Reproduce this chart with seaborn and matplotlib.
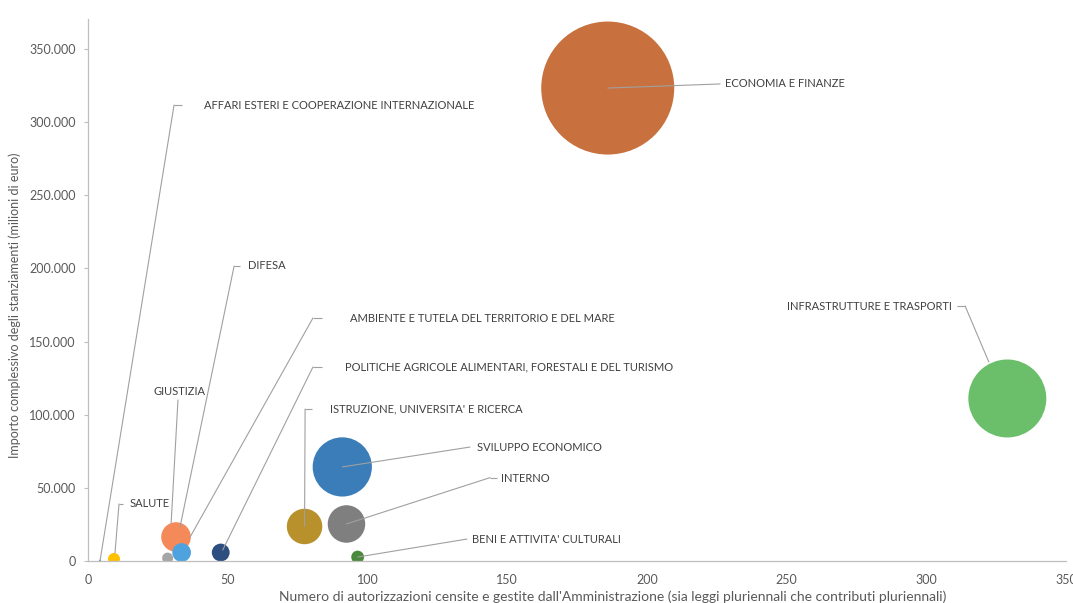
import matplotlib
matplotlib.use("Agg")
import matplotlib.pyplot as plt
import matplotlib.transforms as mtransforms
from matplotlib.ticker import FuncFormatter
import seaborn as sns
import pandas as pd

# ---------------- data ----------------
ministries = [
    "ECONOMIA E FINANZE",
    "INFRASTRUTTURE E TRASPORTI",
    "SVILUPPO ECONOMICO",
    "INTERNO",
    "ISTRUZIONE, UNIVERSITA' E RICERCA",
    "DIFESA",
    "AMBIENTE E TUTELA DEL TERRITORIO E DEL MARE",
    "POLITICHE AGRICOLE ALIMENTARI, FORESTALI E DEL TURISMO",
    "BENI E ATTIVITA' CULTURALI",
    "GIUSTIZIA",
    "SALUTE",
    "AFFARI ESTERI E COOPERAZIONE INTERNAZIONALE",
]
n_authorizations = [186, 329, 91, 92.5, 77.5, 31.5, 33.5, 47.5, 96.5, 28.5, 9.3, 4.3]
amount_meur = [323300, 111100, 64300, 25300, 23600, 16400, 5800, 5800, 2700, 2000, 1400, 100]
bubble_size = [323300, 111100, 64100, 25700, 23000, 16000, 6400, 5800, 3000, 2200, 2600, 100]

x_ticks = [0, 50, 100, 150, 200, 250, 300, 350]
y_ticks = [0, 50000, 100000, 150000, 200000, 250000, 300000, 350000]
x_title = "Numero di autorizzazioni censite e gestite dall'Amministrazione (sia leggi pluriennali che contributi pluriennali)"
y_title = "Importo complessivo degli stanziamenti (milioni di euro)"

# ---------------- styles / layout ----------------
colors = {
    "ECONOMIA E FINANZE": "#C8703E",
    "INFRASTRUTTURE E TRASPORTI": "#6BBF6A",
    "SVILUPPO ECONOMICO": "#3A7DB8",
    "INTERNO": "#7F7F7F",
    "ISTRUZIONE, UNIVERSITA' E RICERCA": "#B8902C",
    "DIFESA": "#F4895A",
    "AMBIENTE E TUTELA DEL TERRITORIO E DEL MARE": "#4EA3DF",
    "POLITICHE AGRICOLE ALIMENTARI, FORESTALI E DEL TURISMO": "#2D4F80",
    "BENI E ATTIVITA' CULTURALI": "#4A8A3C",
    "GIUSTIZIA": "#A5A5A5",
    "SALUTE": "#FFC000",
    "AFFARI ESTERI E COOPERAZIONE INTERNAZIONALE": "#5B9BD5",
}
# label layout: (text x, text y, ha, elbow x, elbow y, tick-end x, end offset dx, dy in px)
label_layout = {
    "ECONOMIA E FINANZE": (228.0, 326100, "left", 226.2, 326100, 226.2, 0, 0),
    "INFRASTRUTTURE E TRASPORTI": (309.2, 174300, "right", 313.9, 174300, 311.0, -18.5, 36.5),
    "SVILUPPO ECONOMICO": (139.2, 77900, "left", 136.7, 77900, 136.7, 0, 0),
    "INTERNO": (147.8, 56700, "left", 143.9, 57000, 146.3, 0, 0),
    "ISTRUZIONE, UNIVERSITA' E RICERCA": (86.6, 103900, "left", 77.7, 103900, 80.2, 0, 0),
    "DIFESA": (57.3, 201700, "left", 52.3, 201700, 54.4, 4, 10),
    "AMBIENTE E TUTELA DEL TERRITORIO E DEL MARE": (93.8, 166100, "left", 80.5, 166100, 83.8, 8.5, 15.5),
    "POLITICHE AGRICOLE ALIMENTARI, FORESTALI E DEL TURISMO": (92.0, 132600, "left", 80.5, 132600, 83.8, 2, 2.5),
    "BENI E ATTIVITA' CULTURALI": (137.4, 15000, "left", 135.6, 15000, 135.6, 0, 0),
    "GIUSTIZIA": (32.6, 117600, "center", 32.2, 110100, 32.2, 3.5, 35),
    "SALUTE": (15.0, 39000, "left", 11.1, 39000, 12.5, 1, 6),
    "AFFARI ESTERI E COOPERAZIONE INTERNAZIONALE": (41.5, 311700, "left", 30.8, 311700, 33.6, 0, 0),
}

df = pd.DataFrame({
    "ministry": ministries,
    "n": n_authorizations,
    "amount": amount_meur,
    "size": bubble_size,
})

sns.set_style("white")
plt.rcParams["font.family"] = ["Lato", "DejaVu Sans"]

fig = plt.figure(figsize=(10.73, 6.03), dpi=100)
ax = fig.add_axes([88 / 1073, 1 - 561 / 603, (1066 - 88) / 1073, (561 - 19) / 603])

max_size = max(bubble_size)
sns.scatterplot(
    data=df, x="n", y="amount", hue="ministry", palette=colors,
    size="size", sizes=(0, 9170), size_norm=(0, max_size),
    linewidth=0, alpha=1, legend=False, ax=ax, zorder=2,
)

ax.set_xlim(0, 350)
ax.set_ylim(0, 370500)
ax.set_xticks(x_ticks)
ax.set_yticks(y_ticks)
ax.yaxis.set_major_formatter(FuncFormatter(lambda v, p: f"{int(v):,}".replace(",", ".")))
ax.xaxis.set_major_formatter(FuncFormatter(lambda v, p: f"{int(v)}"))

for side in ["top", "right"]:
    ax.spines[side].set_visible(False)
for side in ["left", "bottom"]:
    ax.spines[side].set_color("#BFBFBF")
    ax.spines[side].set_linewidth(0.9)

ax.tick_params(axis="y", length=3, width=0.8, color="#BFBFBF", pad=6, labelsize=9, labelcolor="#595959", left=True)
ax.tick_params(axis="x", length=0, pad=9, labelsize=9, labelcolor="#595959")

ax.set_xlabel(x_title, fontsize=10, color="#595959")
ax.set_ylabel(y_title, fontsize=9, color="#595959")
ax.xaxis.set_label_coords((613 - 88) / 978, (561 - 597) / 542)
ax.xaxis.label.set_va("center")
ax.yaxis.set_label_coords((15 - 88) / 978, (561 - 305) / 542)
ax.yaxis.label.set_va("center")

line_kw = dict(color="#A0A0A0", lw=0.8)
for name, xv, yv in zip(ministries, n_authorizations, amount_meur):
    tx, ty, ha, ex, ey, tkx, dx, dy = label_layout[name]
    tr = mtransforms.offset_copy(ax.transData, fig=fig, x=dx, y=dy, units="dots")
    ax.annotate(
        "", xy=(xv, yv), xycoords=tr, xytext=(ex, ey), textcoords="data",
        arrowprops=dict(arrowstyle="-", shrinkA=0, shrinkB=0, **line_kw),
        zorder=3, annotation_clip=False,
    )
    if tkx != ex:
        ax.plot([ex, tkx], [ey, ey], zorder=3, solid_capstyle="butt", **line_kw)
    va = "bottom" if ha == "center" else "center"
    ax.text(tx, ty if ha != "center" else ty - 5500, name, ha=ha, va=va, fontsize=8,
            color="#404040", zorder=4)

fig.savefig("out.png", dpi=100)
